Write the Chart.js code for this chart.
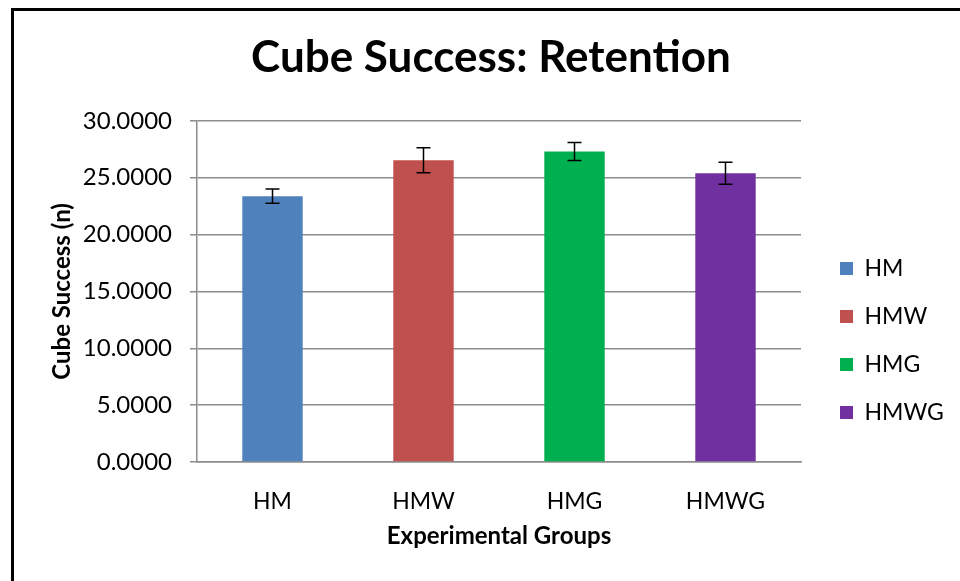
<!DOCTYPE html>
<html>
<head>
<meta charset="utf-8">
<script src="https://cdn.jsdelivr.net/npm/chart.js@4.4.1/dist/chart.umd.min.js"></script>
<style>
  body { margin: 0; background: #fff; }
  #wrap { position: relative; width: 960px; height: 581px; overflow: hidden; }
  #frame { position: absolute; left: 11px; top: 8px; width: 1000px; height: 700px;
           border-top: 3px solid #000; border-left: 3px solid #000; pointer-events: none; }
  canvas { position: absolute; left: 0; top: 0; }
</style>
</head>
<body>
<div id="wrap">
  <canvas id="grafico" width="960" height="581"></canvas>
  <div id="frame"></div>
</div>
<script>
// Dados
const grupos = ['HM', 'HMW', 'HMG', 'HMWG'];
const sucesso = [23.37, 26.53, 27.30, 25.39];
const erros = [0.63, 1.10, 0.80, 0.97];
const cores = ['#4F81BD', '#C0504D', '#00B050', '#7030A0'];
const ticksY = [0, 5, 10, 15, 20, 25, 30];

const fonte = 'Lato, "Open Sans", sans-serif';

// Barras de erro desenhadas com a escala do eixo y
const barrasErro = {
  id: 'barrasErro',
  afterDatasetsDraw(chart) {
    const ctx = chart.ctx;
    const y = chart.scales.y;
    chart.getDatasetMeta(0).data.forEach((bar, i) => {
      const topo = y.getPixelForValue(sucesso[i] + erros[i]);
      const base = y.getPixelForValue(sucesso[i] - erros[i]);
      ctx.save();
      ctx.strokeStyle = '#000';
      ctx.lineWidth = 1.5;
      ctx.beginPath();
      ctx.moveTo(bar.x, topo); ctx.lineTo(bar.x, base);
      ctx.moveTo(bar.x - 7, topo); ctx.lineTo(bar.x + 7, topo);
      ctx.moveTo(bar.x - 7, base); ctx.lineTo(bar.x + 7, base);
      ctx.stroke();
      ctx.restore();
    });
  }
};

// Legenda com largura fixa e um pequeno recuo
const ajusteLegenda = {
  id: 'ajusteLegenda',
  afterInit(chart) {
    const fitOriginal = chart.legend.fit;
    chart.legend.fit = function () {
      fitOriginal.call(this);
      this.width = 159;
    };
  },
  afterLayout(chart) {
    chart.legend.left += 14;
    chart.legend.right += 14;
    chart.legend.top += 50;
    chart.legend.bottom += 50;
  }
};

new Chart(document.getElementById('grafico'), {
  type: 'bar',
  data: {
    labels: grupos,
    datasets: [{
      label: 'Cube Success',
      data: sucesso,
      backgroundColor: cores,
      borderWidth: 0,
      barPercentage: 0.4,
      categoryPercentage: 1.0
    }]
  },
  options: {
    responsive: false,
    animation: false,
    layout: { padding: { left: 22, top: 0, right: 0, bottom: 0 } },
    plugins: {
      tooltip: { enabled: false },
      title: {
        display: true,
        text: 'Cube Success: Retention',
        color: '#000',
        font: { family: fonte, size: 44, weight: 'bold' },
        padding: { top: 31, bottom: 37 }
      },
      legend: {
        position: 'right',
        labels: {
          color: '#000',
          font: { family: fonte, size: 23 },
          boxWidth: 13,
          boxHeight: 13,
          padding: 25,
          generateLabels: () => grupos.map((g, i) => ({
            text: g,
            fillStyle: cores[i],
            strokeStyle: cores[i],
            lineWidth: 0,
            index: i
          }))
        }
      }
    },
    scales: {
      x: {
        afterFit(scale) { scale.height = 119; },
        grid: { display: false },
        border: { display: true, color: '#8c8c8c', width: 1.5 },
        ticks: { color: '#000', font: { family: fonte, size: 23 }, padding: 18 },
        title: {
          display: true,
          text: 'Experimental Groups',
          color: '#000',
          font: { family: fonte, size: 24, weight: 'bold' },
          padding: { bottom: 30 }
        }
      },
      y: {
        min: 0,
        max: 30,
        afterFit(scale) { scale.width = 175; },
        afterBuildTicks(scale) { scale.ticks = ticksY.map(v => ({ value: v })); },
        grid: { color: '#8c8c8c', lineWidth: 1.5, tickLength: 7 },
        border: { display: true, color: '#8c8c8c', width: 1.5 },
        ticks: {
          color: '#000',
          font: { family: fonte, size: 24 },
          padding: 18,
          callback: v => v.toFixed(4)
        },
        title: {
          display: true,
          text: 'Cube Success (n)',
          color: '#000',
          font: { family: fonte, size: 24, weight: 'bold' },
          padding: { top: 26 }
        }
      }
    }
  },
  plugins: [barrasErro, ajusteLegenda]
});
</script>
</body>
</html>
